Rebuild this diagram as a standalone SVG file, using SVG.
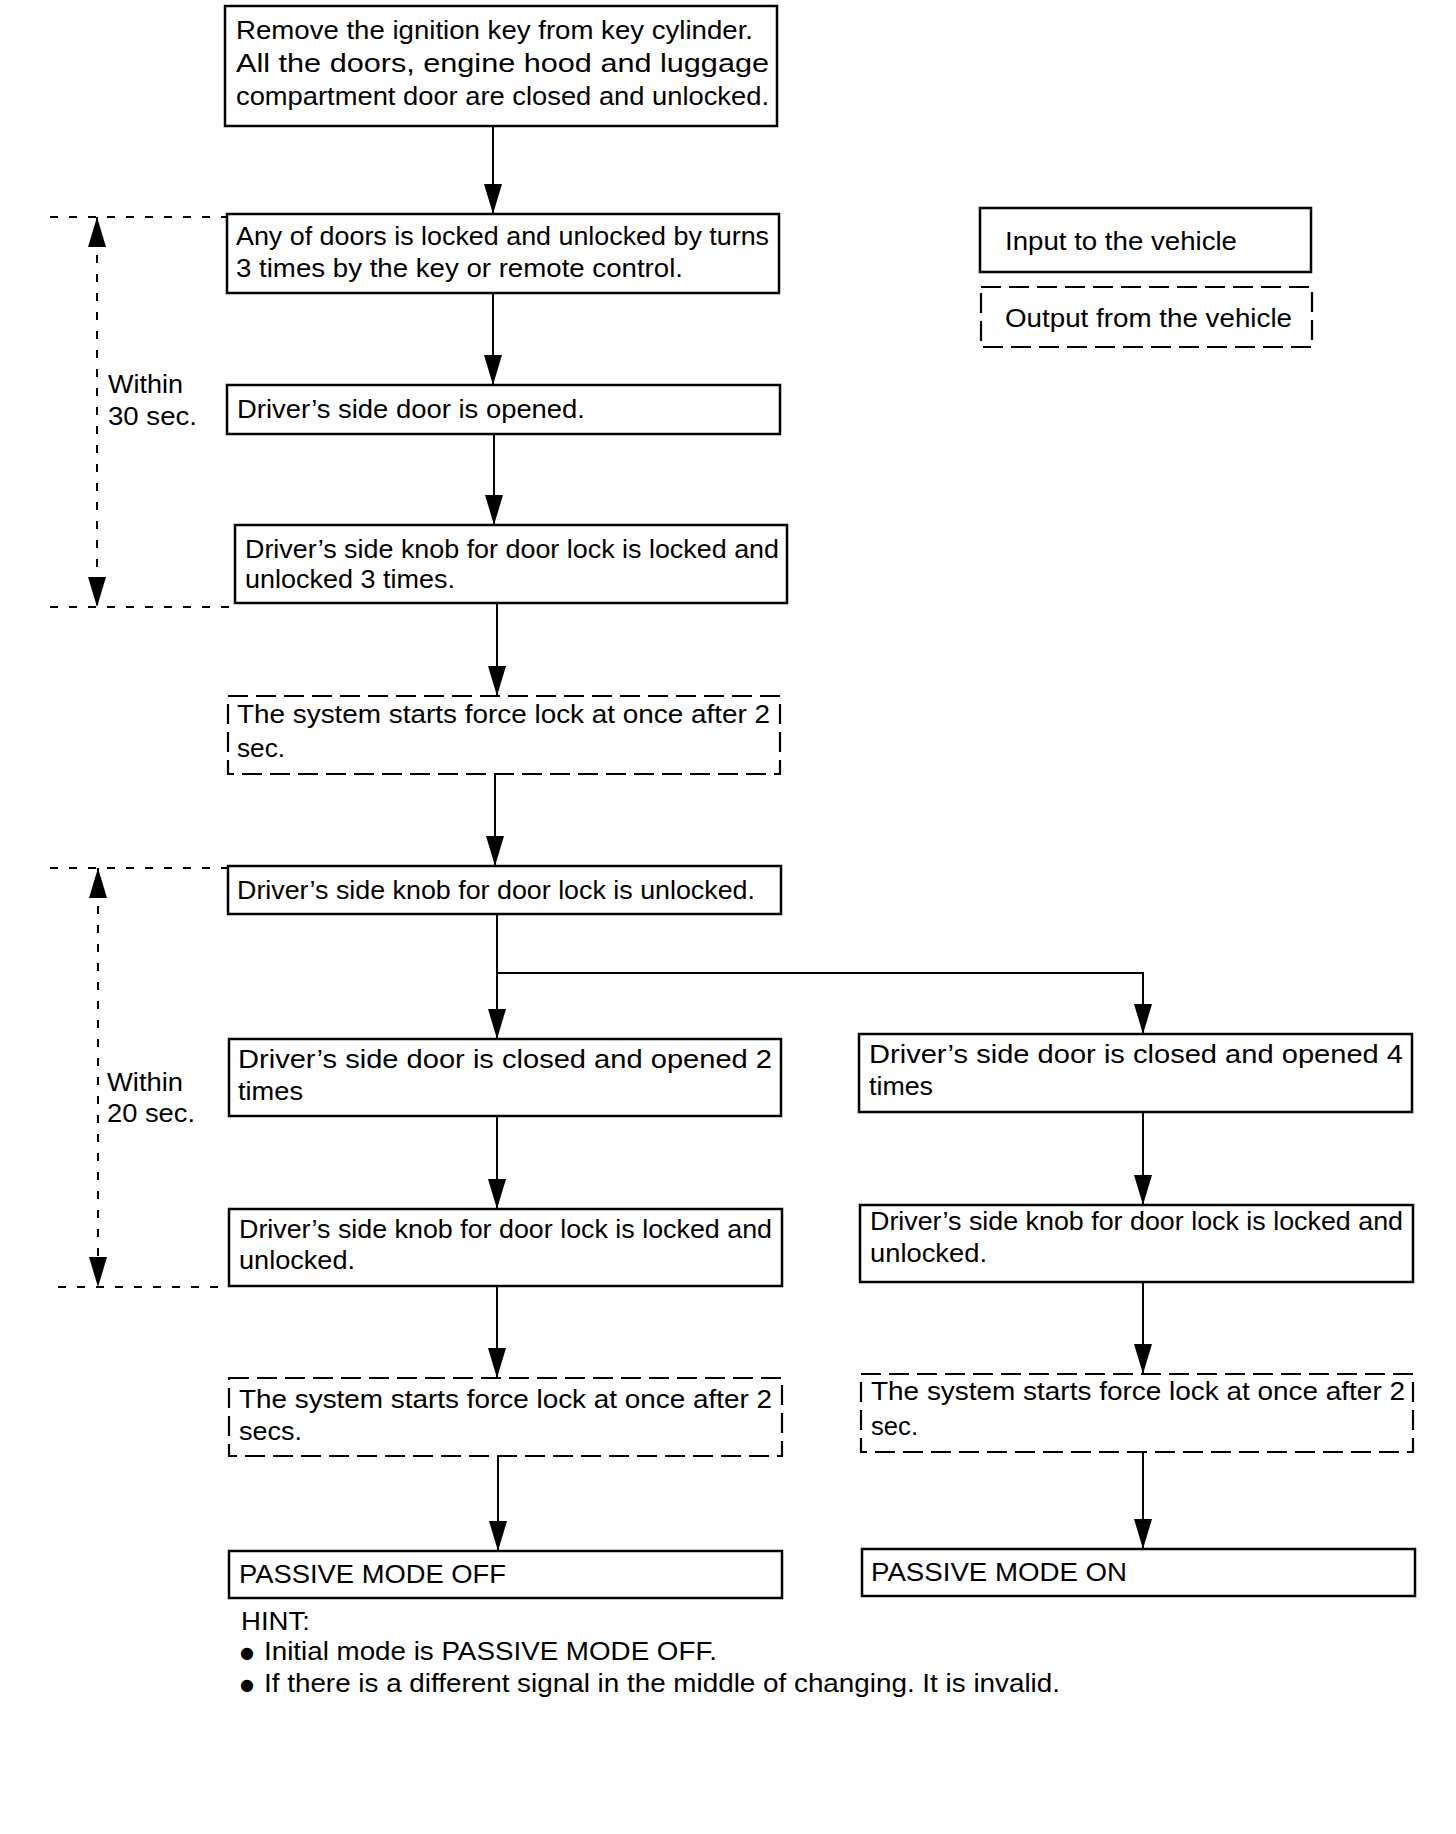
<svg xmlns="http://www.w3.org/2000/svg" width="1456" height="1834" viewBox="0 0 1456 1834">
<style>
text{font-family:"Liberation Sans",Arial,Helvetica,sans-serif;font-size:26px;fill:#000}
.box{fill:#fff;stroke:#000;stroke-width:2.5}
.dbox{fill:#fff;stroke:#000;stroke-width:2.2;stroke-dasharray:20 8}
.conn{fill:none;stroke:#000;stroke-width:2}
.guide{fill:none;stroke:#000;stroke-width:2;stroke-dasharray:8 11}
.bul{font-family:"DejaVu Sans",sans-serif;font-size:16px}
</style>
<defs>
<marker id="arr" viewBox="0 0 30 18" refX="30" refY="9" markerWidth="30" markerHeight="18" markerUnits="userSpaceOnUse" orient="auto-start-reverse">
<path d="M0,0 L30,9 L0,18 z" fill="#000"/>
</marker>
</defs>
<rect width="1456" height="1834" fill="#fff"/>

<g id="connectors">
<line class="conn" x1="493" y1="126" x2="493" y2="214" marker-end="url(#arr)"/>
<line class="conn" x1="493" y1="293" x2="493" y2="385" marker-end="url(#arr)"/>
<line class="conn" x1="494" y1="434" x2="494" y2="525" marker-end="url(#arr)"/>
<line class="conn" x1="497" y1="603" x2="497" y2="696" marker-end="url(#arr)"/>
<line class="conn" x1="495" y1="774" x2="495" y2="866" marker-end="url(#arr)"/>
<line class="conn" x1="497" y1="914" x2="497" y2="1039" marker-end="url(#arr)"/>
<polyline class="conn" points="497,973 1143,973 1143,1034" marker-end="url(#arr)"/>
<line class="conn" x1="497" y1="1116" x2="497" y2="1209" marker-end="url(#arr)"/>
<line class="conn" x1="497" y1="1286" x2="497" y2="1378" marker-end="url(#arr)"/>
<line class="conn" x1="498" y1="1456" x2="498" y2="1551" marker-end="url(#arr)"/>
<line class="conn" x1="1143" y1="1112" x2="1143" y2="1205" marker-end="url(#arr)"/>
<line class="conn" x1="1143" y1="1282" x2="1143" y2="1374" marker-end="url(#arr)"/>
<line class="conn" x1="1143" y1="1452" x2="1143" y2="1549" marker-end="url(#arr)"/>
</g>

<g id="timing30">
<line class="guide" x1="50" y1="217" x2="227" y2="217"/>
<line class="guide" x1="50" y1="607" x2="235" y2="607"/>
<line class="guide" x1="97" y1="217" x2="97" y2="607" marker-start="url(#arr)" marker-end="url(#arr)"/>
<text x="108" y="393" textLength="75" lengthAdjust="spacingAndGlyphs">Within</text>
<text x="108" y="425" textLength="89" lengthAdjust="spacingAndGlyphs">30 sec.</text>
</g>

<g id="timing20">
<line class="guide" x1="50" y1="868" x2="228" y2="868"/>
<line class="guide" x1="58" y1="1287" x2="229" y2="1287"/>
<line class="guide" x1="98" y1="868" x2="98" y2="1287" marker-start="url(#arr)" marker-end="url(#arr)"/>
<text x="107" y="1091" textLength="76" lengthAdjust="spacingAndGlyphs">Within</text>
<text x="107" y="1122" textLength="88" lengthAdjust="spacingAndGlyphs">20 sec.</text>
</g>

<g id="legend-input">
<rect class="box" x="980" y="208" width="331" height="64"/>
<text x="1005" y="250" textLength="232" lengthAdjust="spacingAndGlyphs">Input to the vehicle</text>
</g>
<g id="legend-output">
<rect class="dbox" x="981" y="287" width="331" height="60"/>
<text x="1005" y="327" textLength="287" lengthAdjust="spacingAndGlyphs">Output from the vehicle</text>
</g>

<g id="n1">
<rect class="box" x="225" y="6" width="552" height="120"/>
<text x="236" y="39" textLength="517" lengthAdjust="spacingAndGlyphs">Remove the ignition key from key cylinder.</text>
<text x="236" y="72" textLength="533" lengthAdjust="spacingAndGlyphs">All the doors, engine hood and luggage</text>
<text x="236" y="105" textLength="533" lengthAdjust="spacingAndGlyphs">compartment door are closed and unlocked.</text>
</g>
<g id="n2">
<rect class="box" x="227" y="214" width="552" height="79"/>
<text x="236" y="245" textLength="533" lengthAdjust="spacingAndGlyphs">Any of doors is locked and unlocked by turns</text>
<text x="236" y="277" textLength="447" lengthAdjust="spacingAndGlyphs">3 times by the key or remote control.</text>
</g>
<g id="n3">
<rect class="box" x="227" y="385" width="553" height="49"/>
<text x="237" y="418" textLength="348" lengthAdjust="spacingAndGlyphs">Driver’s side door is opened.</text>
</g>
<g id="n4">
<rect class="box" x="235" y="525" width="552" height="78"/>
<text x="245" y="558" textLength="534" lengthAdjust="spacingAndGlyphs">Driver’s side knob for door lock is locked and</text>
<text x="245" y="588" textLength="210" lengthAdjust="spacingAndGlyphs">unlocked 3 times.</text>
</g>
<g id="n5">
<rect class="dbox" x="228" y="696" width="552" height="78"/>
<text x="237" y="723" textLength="533" lengthAdjust="spacingAndGlyphs">The system starts force lock at once after 2</text>
<text x="237" y="757" textLength="48" lengthAdjust="spacingAndGlyphs">sec.</text>
</g>
<g id="n6">
<rect class="box" x="228" y="866" width="553" height="48"/>
<text x="237" y="899" textLength="518" lengthAdjust="spacingAndGlyphs">Driver’s side knob for door lock is unlocked.</text>
</g>
<g id="n7">
<rect class="box" x="229" y="1039" width="552" height="77"/>
<text x="238" y="1068" textLength="534" lengthAdjust="spacingAndGlyphs">Driver’s side door is closed and opened 2</text>
<text x="238" y="1100" textLength="65" lengthAdjust="spacingAndGlyphs">times</text>
</g>
<g id="n8">
<rect class="box" x="229" y="1209" width="553" height="77"/>
<text x="239" y="1238" textLength="533" lengthAdjust="spacingAndGlyphs">Driver’s side knob for door lock is locked and</text>
<text x="239" y="1269" textLength="116" lengthAdjust="spacingAndGlyphs">unlocked.</text>
</g>
<g id="n9">
<rect class="dbox" x="229" y="1378" width="553" height="78"/>
<text x="239" y="1408" textLength="533" lengthAdjust="spacingAndGlyphs">The system starts force lock at once after 2</text>
<text x="239" y="1440" textLength="63" lengthAdjust="spacingAndGlyphs">secs.</text>
</g>
<g id="n10">
<rect class="box" x="229" y="1551" width="553" height="47"/>
<text x="239" y="1583" textLength="267" lengthAdjust="spacingAndGlyphs">PASSIVE MODE OFF</text>
</g>

<g id="r1">
<rect class="box" x="859" y="1034" width="553" height="78"/>
<text x="869" y="1063" textLength="534" lengthAdjust="spacingAndGlyphs">Driver’s side door is closed and opened 4</text>
<text x="869" y="1095" textLength="64" lengthAdjust="spacingAndGlyphs">times</text>
</g>
<g id="r2">
<rect class="box" x="860" y="1205" width="553" height="77"/>
<text x="870" y="1230" textLength="533" lengthAdjust="spacingAndGlyphs">Driver’s side knob for door lock is locked and</text>
<text x="870" y="1262" textLength="117" lengthAdjust="spacingAndGlyphs">unlocked.</text>
</g>
<g id="r3">
<rect class="dbox" x="861" y="1374" width="552" height="78"/>
<text x="871" y="1400" textLength="534" lengthAdjust="spacingAndGlyphs">The system starts force lock at once after 2</text>
<text x="871" y="1435" textLength="47" lengthAdjust="spacingAndGlyphs">sec.</text>
</g>
<g id="r4">
<rect class="box" x="862" y="1549" width="553" height="47"/>
<text x="871" y="1581" textLength="256" lengthAdjust="spacingAndGlyphs">PASSIVE MODE ON</text>
</g>

<g id="hint">
<text x="241" y="1630" textLength="69" lengthAdjust="spacingAndGlyphs">HINT:</text>
<text class="bul" x="240" y="1658">●</text>
<text x="264" y="1660" textLength="453" lengthAdjust="spacingAndGlyphs">Initial mode is PASSIVE MODE OFF.</text>
<text class="bul" x="240" y="1690">●</text>
<text x="264" y="1692" textLength="796" lengthAdjust="spacingAndGlyphs">If there is a different signal in the middle of changing. It is invalid.</text>
</g>
</svg>
